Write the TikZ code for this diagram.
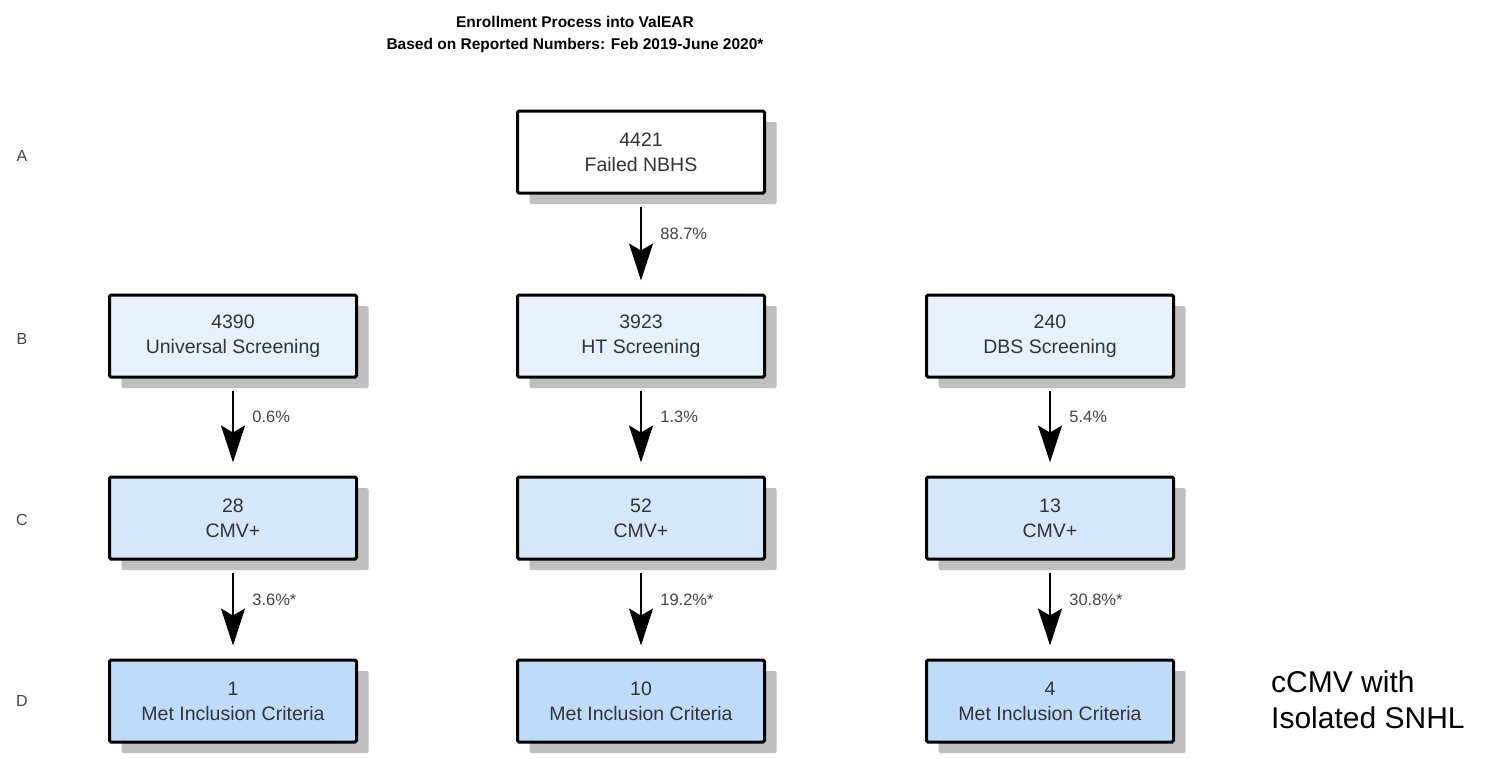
\documentclass[tikz,border=0pt]{standalone}
\usepackage{fontspec}
\setmainfont{Liberation Sans}
\usetikzlibrary{arrows.meta,shadows}
\definecolor{fillB}{HTML}{E6F1FD}
\definecolor{fillC}{HTML}{D4E7FB}
\definecolor{fillD}{HTML}{BEDCFA}
\definecolor{txt}{HTML}{333333}
\definecolor{lbl}{HTML}{444444}
\definecolor{shad}{HTML}{BFBFBF}
\begin{document}
\begin{tikzpicture}[x=1pt,y=-1pt,
  stepbox/.style={draw=black, line width=3pt, rounded corners=1.5pt,
    minimum width=247pt, minimum height=82pt, inner sep=0pt,
    align=center, text=txt,
    font=\fontsize{19.5}{25}\selectfont,
    drop shadow={shadow xshift=12pt, shadow yshift=-11pt, fill=shad, opacity=1}},
  flowarrow/.style={line width=2pt, -{Stealth[length=37pt,width=24pt,inset=7pt]},
    shorten <=12pt, shorten >=13pt},
  pct/.style={font=\fontsize{16.5}{19}\selectfont, text=lbl, anchor=west, xshift=15pt},
  rowlbl/.style={font=\fontsize{16}{19}\selectfont, text=lbl},
  titletxt/.style={font=\bfseries\fontsize{15.5}{22}\selectfont, align=center, text=black}
]
\useasboundingbox (0,0) rectangle (1491,758);
\fill[white] (0,0) rectangle (1491,758);

\node[titletxt] (title) at (575,34) {Enrollment Process into ValEAR\\Based on Reported Numbers: Feb 2019-June 2020*};

\node[rowlbl] (ra) at (22,156) {A};
\node[rowlbl] (rb) at (22,339) {B};
\node[rowlbl] (rc) at (22,520) {C};
\node[rowlbl] (rd) at (22,701) {D};

\node[stepbox, fill=white] (a) at (641,152) {4421\\Failed NBHS};

\node[stepbox, fill=fillB] (b1) at (233,336) {4390\\Universal Screening};
\node[stepbox, fill=fillB] (b2) at (641,336) {3923\\HT Screening};
\node[stepbox, fill=fillB] (b3) at (1050,336) {240\\DBS Screening};

\node[stepbox, fill=fillC] (c1) at (233,518) {28\\CMV+};
\node[stepbox, fill=fillC] (c2) at (641,518) {52\\CMV+};
\node[stepbox, fill=fillC] (c3) at (1050,518) {13\\CMV+};

\node[stepbox, fill=fillD] (d1) at (233,701) {1\\Met Inclusion Criteria};
\node[stepbox, fill=fillD] (d2) at (641,701) {10\\Met Inclusion Criteria};
\node[stepbox, fill=fillD] (d3) at (1050,701) {4\\Met Inclusion Criteria};

\draw[flowarrow] (a) -- node[pos=0.4, pct] {88.7\%} (b2);
\draw[flowarrow] (b1) -- node[pos=0.4, pct] {0.6\%} (c1);
\draw[flowarrow] (b2) -- node[pos=0.4, pct] {1.3\%} (c2);
\draw[flowarrow] (b3) -- node[pos=0.4, pct] {5.4\%} (c3);
\draw[flowarrow] (c1) -- node[pos=0.4, pct] {3.6\%*} (d1);
\draw[flowarrow] (c2) -- node[pos=0.4, pct] {19.2\%*} (d2);
\draw[flowarrow] (c3) -- node[pos=0.4, pct] {30.8\%*} (d3);

\node[font=\fontsize{30}{36}\selectfont, align=left, anchor=north west, inner sep=0pt] (note) at (1271,671) {cCMV with\\Isolated SNHL};
\end{tikzpicture}
\end{document}
